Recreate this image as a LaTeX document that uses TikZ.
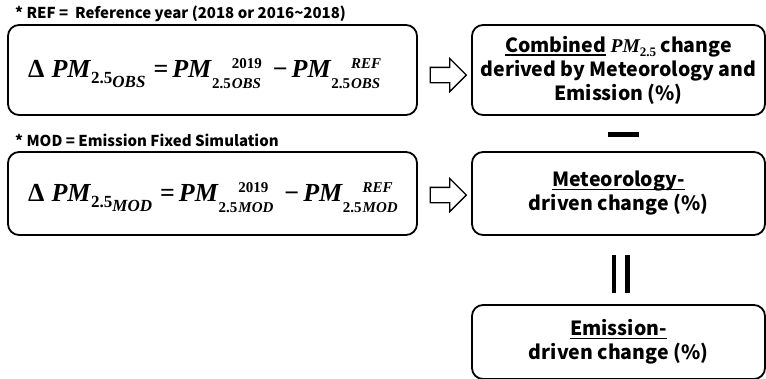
\documentclass[tikz,border=0pt]{standalone}
\usepackage{fontspec}
\setmainfont{Noto Sans CJK KR}
\newfontfamily\eqf{Liberation Serif}
\usetikzlibrary{shapes.arrows,calc}
\tikzset{
  eqbox/.style={draw, line width=1.8pt, rounded corners=11pt, inner sep=0pt},
  resbox/.style={draw, line width=1.8pt, rounded corners=11pt, inner sep=0pt, align=center,
     font=\fontsize{19.5}{24}\selectfont\bfseries},
  note/.style={anchor=west, inner sep=0pt, font=\fontsize{15}{17}\selectfont\bfseries},
  blockarrow/.style={single arrow, draw, line width=1.3pt, inner sep=7pt, text height=0pt, text depth=0pt,
     minimum height=36pt, single arrow head extend=9pt},
  formulabox/.style={inner sep=0pt, anchor=base west, font=\eqf\bfseries\fontsize{26}{28}\selectfont},
  opbar/.style={fill=black, draw=none}
}
\newcommand{\smallf}[1]{\hbox{\fontsize{15}{15}\selectfont #1}}
\newcommand{\supsub}[2]{\setbox1\hbox{\fontsize{15}{15}\selectfont #1}%
  \setbox2\hbox{\fontsize{15}{15}\selectfont\itshape #2}%
  \dimen0=\wd1\relax\ifdim\wd2>\dimen0\relax\dimen0=\wd2\relax\fi
  \hbox to\dimen0{\rlap{\raise 9pt\box1}\lower 11pt\box2\hfil}}
\newcommand{\PMt}[2]{\textit{PM}\lower11pt\smallf{2.5}\kern1pt\supsub{#1}{#2}}
\newcommand{\eqline}[1]{\char"0394\hspace{7pt}\textit{PM}\lower6pt\hbox{\fontsize{17}{17}\selectfont 2.5}%
  \lower10pt\hbox{\fontsize{17}{17}\selectfont\itshape #1}\hspace{8pt}=\hspace{4pt}%
  \PMt{2019}{#1}\hspace{11pt}\char"2212\hspace{4pt}\PMt{\itshape REF}{#1}}
\newcommand{\pmital}{{\eqf\itshape PM}\lower4pt\hbox{\eqf\fontsize{13}{13}\selectfont 2.5}}
\newcommand{\ulx}[1]{\setbox0\hbox{#1}\rlap{\rule[-3.5pt]{\wd0}{1.3pt}}\box0\relax}
\begin{document}
\begin{tikzpicture}[x=1pt,y=-1pt]
\useasboundingbox (0,0) rectangle (766,378);
% notes
\node[note] (refnote) at (15,14) {* REF =\ \ Reference year (2018 or 2016\textasciitilde2018)};
\node[note] (modnote) at (15,140) {* MOD = Emission Fixed Simulation};
% left boxes
\node[eqbox, minimum width=409pt, minimum height=90pt] (L1) at (212.5,70) {};
\node[eqbox, minimum width=409pt, minimum height=83pt] (L2) at (212.5,193.5) {};
\node[formulabox] (F1) at (28,77) {\eqline{OBS}};
\node[formulabox] (F2) at (28,201) {\eqline{MOD}};
% right boxes
\node[resbox, minimum width=293pt, minimum height=90pt] (R1) at (618.5,70)
  {\ulx{Combined} \pmital{} change\\derived by Meteorology and\\Emission (\%)};
\node[resbox, minimum width=293pt, minimum height=83pt] (R2) at (618.5,193.5)
  {\ulx{Meteorology-}\\driven change (\%)};
\node[resbox, minimum width=293pt, minimum height=74pt] (R3) at (618.5,342)
  {\ulx{Emission-}\\driven change (\%)};
% arrows
\node[blockarrow] (A1) at ($(L1.east)!0.5!(R1.west)+(0,5)$) {};
\node[blockarrow] (A2) at ($(L2.east)!0.5!(R2.west)+(0,1.5)$) {};
% operators
\fill[opbar] (608,132) rectangle (639,137);
\fill[opbar] (611.5,255) rectangle (616,293);
\fill[opbar] (625,255) rectangle (629.5,293);
\end{tikzpicture}
\end{document}
